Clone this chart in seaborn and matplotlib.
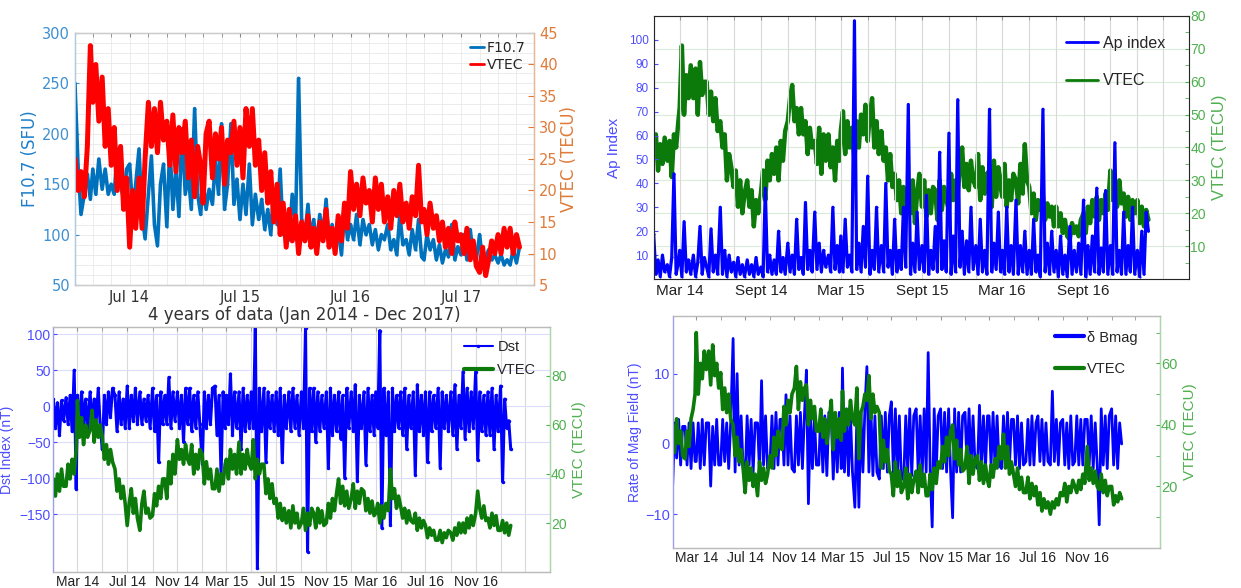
import numpy as np
import pandas as pd
import matplotlib
matplotlib.use("Agg")
import matplotlib.pyplot as plt
import matplotlib.dates as mdates
from matplotlib.ticker import MultipleLocator, FixedLocator, FuncFormatter
import seaborn as sns

sns.set_style("white")
plt.rcParams['font.family'] = ['Liberation Sans', 'DejaVu Sans']

# ---------------- data ----------------
# Panel 1 (3 readings per month: day 1, 11, 21), Jan 2014 - Jan 2018
f107 = [250,170,120, 140,160,135, 165,140,175, 145,165,140, 150,140,185, 150,135,165,
        170,125,150, 185,120,96, 140,178,110, 89,150,170, 108,190,125, 165,118,205,
        140,160,125, 225,140,120, 155,125,145, 130,175,140, 210,125,150, 210,130,155,
        115,150,120, 170,110,140, 115,135,105, 125,100,145, 110,165,100, 120,95,140,
        110,255,115, 100,130,95, 115,90,120, 100,135,90, 110,85,105, 80,125,95,
        110,95,120, 90,115,100, 110,90,105, 85,100,95, 110,85,95, 80,120,90,
        95,80,105, 85,115,78, 75,100,85, 95,75,90, 72,85,78, 110,75,88,
        80,100,75, 105,80,75, 100,72,78, 85,75,80, 72,80,70, 75,70,85,
        72,88]
vtec1 = [25,20,23, 19,27,43, 34,40,31, 38,27,33, 24,30,20, 27,17,22,
         11,20,14, 22,14,25, 34,27,33, 26,34,28, 31,24,32, 23,30,26,
         31,22,28, 19,27,24, 18,29,31, 22,29,25, 30,21,28, 26,31,24,
         30,22,33, 27,33,24, 28,20,26, 18,23,15, 21,13,18, 11,17,12,
         16,10,15, 12,16,11, 14,10,15, 12,17,11, 14,10,16, 12,18,14,
         23,17,21, 16,22,18, 20,15,22, 17,21,15, 19,14,20, 16,21,15,
         18,14,19, 16,24,15, 17,13,18, 14,16,12, 15,11,14, 10,15,12,
         13,10,14, 9,12,8, 7,11,6.5, 9,12,10, 13,10,14, 11,14,10,
         13,11]

# Panels 2-4 (6 readings per month: day 1, 6, 11, 16, 21, 26), Jan 2014 - Jan 2017
ap = [19,2,8,1,10,3, 6,1,9,44,2,7, 12,1,24,3,8,2, 10,1,7,22,2,9, 5,1,21,3,10,2, 30,2,12,1,10,3,
      7,1,9,2,6,1, 8,2,6,1,9,2, 5,1,38,3,10,2, 8,2,20,3,9,2, 15,3,10,2,25,4, 9,2,32,4,12,3,
      28,4,15,3,12,5, 10,3,30,4,14,3, 18,3,25,5,10,3, 108,4,15,3,22,5, 43,2,12,4,30,3, 14,3,40,5,12,2,
      25,3,12,4,30,5, 73,2,15,3,28,4, 14,3,35,2,12,4, 22,3,53,4,16,3, 61,2,18,3,75,5, 20,2,16,3,30,4,
      14,2,25,3,12,2, 71,3,15,4,28,3, 12,2,30,3,14,2, 33,2,14,3,20,2, 12,2,25,3,10,1, 71,3,15,2,20,3,
      12,1,18,2,10,1, 22,2,12,3,15,2, 33,1,14,2,18,3, 38,2,13,3,37,2, 14,2,57,3,12,2, 28,2,14,3,30,2,
      12,1,20,2,28,20]
vtec2 = [38,44,33,41,35,43, 36,42,31,44,40,48, 52,71,50,62,55,65, 55,64,50,66,56,60, 60,50,57,48,55,45, 48,40,44,30,38,34,
         28,33,22,30,20,26, 30,22,27,16,24,20, 26,33,24,36,30,38, 32,40,30,42,36,45, 48,55,59,48,52,44, 52,44,48,38,46,40,
         42,35,46,32,44,36, 44,34,40,30,42,36, 45,51,38,48,40,46, 36,48,40,50,44,53, 42,50,55,40,48,38, 45,36,40,30,38,28,
         32,24,30,20,28,18, 27,20,30,17,26,32, 22,30,19,27,20,28, 27,18,30,21,28,24, 21,32,24,30,26,34, 40,28,35,27,36,30,
         28,38,24,34,26,32, 33,22,36,25,34,28, 25,35,22,30,24,32, 30,23,35,26,41,30, 28,20,26,18,24,21, 25,18,23,19,22,16,
         22,16,20,14,18,13, 12,17,14,16,13,18, 20,14,22,17,24,19, 25,18,24,20,26,21, 33,24,28,22,30,23, 26,19,25,18,24,20,
         24,17,22,16,21,18]
dst = [10,-30,5,-40,8,-20, 12,-25,15,-35,50,-115, 15,-30,20,-25,10,-35, 20,-30,10,-20,25,-30, -60,15,-25,20,-15,25, 15,-35,20,-25,10,-30,
       28,-30,15,-20,25,-25, 20,-25,10,-20,15,-30, 25,-35,15,-78,20,-25, 15,-25,40,-30,20,-20, 20,-30,15,-50,25,-25, 25,-35,15,-30,20,-25,
       -80,20,-30,15,-25,25, 28,-40,15,-95,20,-30, 15,-25,45,-40,20,-30, 20,-60,25,-35,15,-30, 20,-30,110,-225,25,-35, 25,-78,20,-30,15,-35,
       20,-40,25,-78,15,-30, 20,-35,25,-30,15,-40, 20,-30,108,-202,25,-35, 25,-50,20,-35,15,-30, 20,-86,25,-40,15,-35, 20,-45,15,-100,25,-30,
       20,-35,30,-104,15,-30, 20,-81,25,-35,15,-40, 20,-30,105,-169,25,-40, 20,-165,25,-35,15,-30, 20,-40,25,-60,15,-30, 20,-95,30,-35,15,-40,
       20,-78,20,-35,15,-30, 25,-85,20,-30,15,-35, 20,-40,30,-60,15,-30, 48,-45,25,-35,20,-30, 48,-75,20,-35,15,-40, 20,-40,25,-60,15,-35,
       28,-105,10,-30,-20,-60]
vtec3 = [38,31,40,33,42,35, 35,44,38,46,40,50, 70,55,63,52,60,55, 58,66,53,62,55,60, 55,46,52,44,50,45, 42,33,38,30,35,28,
         19,28,34,24,30,22, 17,28,33,24,26,22, 23,32,27,35,30,38, 38,30,45,36,48,40, 54,46,50,44,52,46, 44,52,40,48,42,50,
         48,36,45,38,42,34, 34,42,33,40,36,44, 46,38,50,42,48,40, 53,40,48,42,50,44, 42,54,38,46,40,44, 44,32,38,30,36,28,
         30,22,28,21,26,20, 25,18,27,20,24,18, 20,26,17,24,19,26, 24,18,26,20,25,19, 20,28,22,30,25,32, 38,28,35,27,33,26,
         30,36,26,33,28,34, 33,25,30,24,29,23, 24,28,20,27,22,28, 25,42,30,34,26,31, 27,22,26,20,25,21, 20,24,17,22,18,21,
         19,14,18,15,17,13, 13,17,12,16,14,17, 16,13,18,15,20,16, 20,16,22,18,23,19, 24,33,26,22,27,21, 22,18,24,19,23,17,
         17,21,16,20,15,19]
bmag = [-6,3,-2,3.5,-3,2.5, 2.5,-3,3,-3.5,3,-2.5, -2.5,3,-3.5,3.5,-3,3, 3,-6,2.5,-3,3.5,-3, -3,3.5,-2.5,3,-3.5,3, 15,-4,10,-3,4,-3.5,
        -5,4,-3,3.5,-4,3, 3,-4,9,-3,4,-3.5, -3,4,-3.5,4.5,-3,3.5, 3.5,-3,7,-3,4,-3.5, -4,4,-3,4.5,-3.5,4, 10.5,-8.5,4,-3.5,4,-3,
        -3,5,-4,4,-4.5,4.5, 4,-5,3.5,-4,4.5,-3.5, 10.8,-4,5,-4.5,4,-4, -9,4,-9,4.5,-4,5, 11,-4,5,-4.5,4,-4, -5,4,-3.5,4.5,-4,4,
        6,-4,5,-4.5,4,-5, -5,4,-4,5,-4.5,4, 5,-4,4,-4.5,5,-4, 13,-4,-11.8,5,-4,4, 5,-3.5,4.5,-4,5,-4, -10.5,5,-4,4.5,-4,4,
        4.5,-3,5,-3.5,4,-3, -3.5,5.5,-3,4,-3.5,4, 4,-3,4.5,-3.5,4,-3, -3.5,4,-3,4.5,-3,3.5, 3.5,-3,4,-3.5,3,-3, -2.5,3.5,-3,4,-3,3,
        4,-2.5,3.5,-3,3,-2.5, -3,7.5,-2.5,3.5,-3,3, 3.5,-3,3,-3.5,4,-3, -2.5,4,-3,3.5,-3,3.5, 3.5,-3,4,-3.5,3,-3, -11.5,5,-3,4,-3.5,4,
        5,-3,4,-3.5,3,0]
vtec4 = [40,31,42,34,38,30, 29,38,33,42,45,50, 70,50,60,55,64,58, 64,53,66,56,60,52, 57,45,52,44,50,42, 40,30,36,28,32,26,
         18,28,22,26,20,24, 17,28,22,26,21,24, 30,26,36,30,38,33, 32,46,40,48,44,50, 52,59,45,54,48,52, 53,40,48,42,46,38,
         38,45,36,42,34,40, 48,32,44,36,42,35, 51,38,45,40,48,42, 40,52,29,44,46,50, 48,56,42,50,44,46, 44,26,35,28,32,25,
         24,17,28,20,25,18, 20,26,16,24,18,22, 25,18,27,20,24,17, 17,24,19,26,21,28, 26,33,28,36,30,38, 40,29,35,27,32,25,
         26,33,21,30,24,29, 30,22,28,21,27,22, 20,27,23,29,26,33, 29,37,26,33,24,28, 24,20,26,19,23,18, 18,23,16,21,17,20,
         14,18,12,16,13,15, 11,15,13,16,14,18, 17,21,15,20,18,22, 20,18,22,19,24,21, 33,22,26,21,25,20, 19,24,18,22,17,20,
         20,14,17,15,18,16]


def make_dates(n, per):
    offs = (0, 10, 20) if per == 3 else (0, 5, 10, 15, 20, 25)
    months = pd.date_range('2014-01-01', periods=(n + per - 1) // per, freq='MS')
    d = [m + pd.Timedelta(days=k) for m in months for k in offs]
    return pd.to_datetime(d[:n])


def fmt_date(x, pos=None):
    d = mdates.num2date(x)
    mon = 'Sept' if d.month == 9 else d.strftime('%b')
    return f"{mon} {d:%y}"


def date_ticks(start, end, freq):
    return FixedLocator(mdates.date2num(pd.date_range(start, end, freq=freq).to_pydatetime()))


BLUE = '#0000FF'
GREEN = '#0B7A0B'
BLUE_TXT = '#4d4dff'
GREEN_TXT = '#4fb04f'

fig = plt.figure(figsize=(12.41, 5.88), dpi=100)

# ======================= Panel 1 =======================
ax1 = fig.add_axes([0.0604, 0.5153, 0.3699, 0.4286])
ax1b = ax1.twinx()
sns.lineplot(x=make_dates(len(f107), 3), y=f107, ax=ax1, color='#0072BD', lw=2.6,
             marker='.', markersize=3, markeredgewidth=0, legend=False)
sns.lineplot(x=make_dates(len(vtec1), 3), y=vtec1, ax=ax1b, color='#FF0000', lw=3.6,
             marker='.', markersize=3, markeredgewidth=0, legend=False)
ax1.set_xlim(pd.Timestamp('2014-01-01'), pd.Timestamp('2018-02-28'))
ax1.set_ylim(50, 300)
ax1b.set_ylim(5, 45)
ax1.yaxis.set_major_locator(MultipleLocator(50))
ax1.yaxis.set_minor_locator(MultipleLocator(10))
ax1b.yaxis.set_major_locator(MultipleLocator(5))
ax1.xaxis.set_major_locator(mdates.MonthLocator(bymonth=[7]))
ax1.xaxis.set_minor_locator(mdates.MonthLocator(bymonth=[1, 3, 5, 7, 9, 11]))
ax1.xaxis.set_major_formatter(FuncFormatter(fmt_date))
ax1.grid(True, which='both', color='#e9e9e9', lw=0.6)
ax1.set_axisbelow(True)
ax1.tick_params(axis='y', which='both', color='#3d8fd1', labelcolor='#3d8fd1',
                direction='in', labelsize=10.5, length=3)
ax1.tick_params(axis='y', which='minor', length=0)
ax1.tick_params(axis='x', which='both', direction='in', labelcolor='#333333',
                labelsize=10.5, top=True, length=3, color='#888888')
ax1b.tick_params(axis='y', color='#e07b39', labelcolor='#e07b39', direction='in',
                 labelsize=10.5, length=4)
ax1.set_ylabel('F10.7 (SFU)', color='#1f7fc8', fontsize=12, family='DejaVu Sans', labelpad=2)
ax1b.set_ylabel('VTEC (TECU)', color='#e07b39', fontsize=12, family='DejaVu Sans', labelpad=2)
ax1.set_xlabel('4 years of data (Jan 2014 - Dec 2017)', color='#333333', fontsize=12,
               family='DejaVu Sans', labelpad=1)
for lab in ax1.get_xticklabels() + ax1.get_yticklabels() + ax1b.get_yticklabels():
    lab.set_family('DejaVu Sans')
for s in ['top', 'bottom']:
    ax1b.spines[s].set_color('#cccccc')
ax1b.spines['left'].set_color('#a8cbea')
ax1b.spines['right'].set_color('#f0b48a')
h = [ax1.get_lines()[0], ax1b.get_lines()[0]]
ax1b.legend(h, ['F10.7', 'VTEC'], loc='upper right', frameon=False,
            handlelength=1.0, handletextpad=0.2, borderaxespad=0.2, labelspacing=0.2,
            prop={'family': 'DejaVu Sans', 'size': 10})
for lh in ax1b.get_legend().get_lines():
    lh.set_linewidth(2.0)

# ======================= Panel 2 =======================
ax2 = fig.add_axes([0.5267, 0.5255, 0.4314, 0.4473])
ax2b = ax2.twinx()
sns.lineplot(x=make_dates(len(vtec2), 6), y=vtec2, ax=ax2b, color=GREEN, lw=3.2,
             marker='.', markersize=3, markeredgewidth=0, legend=False)
sns.lineplot(x=make_dates(len(ap), 6), y=ap, ax=ax2, color=BLUE, lw=2.3,
             marker='.', markersize=3, markeredgewidth=0, legend=False)
ax2.set_zorder(ax2b.get_zorder() + 1)
ax2.patch.set_visible(False)
ax2.set_xlim(pd.Timestamp('2014-01-01'), pd.Timestamp('2017-04-28'))
ax2.set_ylim(0, 110)
ax2b.set_ylim(0, 80)
ax2.yaxis.set_major_locator(FixedLocator(np.arange(10, 101, 10)))
ax2b.yaxis.set_major_locator(FixedLocator(np.arange(10, 81, 10)))
ax2b.yaxis.set_minor_locator(FixedLocator(np.arange(5, 80, 10)))
ax2.xaxis.set_major_locator(date_ticks('2014-03-01', '2016-09-01', '6MS'))
ax2.xaxis.set_minor_locator(date_ticks('2014-01-01', '2017-03-01', '2MS'))
ax2.xaxis.set_major_formatter(FuncFormatter(fmt_date))
ax2.grid(True, axis='x', which='both', color='#d9d9d9', lw=0.8)
ax2b.grid(True, axis='y', which='major', color='#d8ecd8', lw=0.8)
ax2.tick_params(axis='y', color=BLUE_TXT, labelcolor=BLUE_TXT, direction='in',
                labelsize=8.5, length=3)
ax2.tick_params(axis='x', which='both', direction='in', labelsize=11, length=3,
                color='#999999', top=True, labelcolor='#222222')
ax2b.tick_params(axis='y', which='both', color=GREEN_TXT, labelcolor=GREEN_TXT,
                 direction='in', labelsize=10, length=3, pad=1)
ax2.set_xlabel('')
ax2.set_ylabel('Ap Index', color=BLUE_TXT, fontsize=11, labelpad=6)
ax2b.set_ylabel('VTEC (TECU)', color=GREEN_TXT, fontsize=12, labelpad=4)
for s in ['top', 'bottom']:
    ax2b.spines[s].set_color('#bbbbbb')
ax2b.spines['left'].set_color('#9a9aff')
ax2b.spines['right'].set_color('#a6dba6')
h = [ax2.get_lines()[0], ax2b.get_lines()[0]]
ax2.legend(h, ['Ap index', 'VTEC'], loc='upper right', frameon=False, fontsize=11.5,
           handlelength=2.0, handletextpad=0.3, borderaxespad=0.6, labelspacing=1.4,
           bbox_to_anchor=(0.985, 0.985))
for lh in ax2.get_legend().get_lines():
    lh.set_linewidth(2.0)

# ======================= Panel 3 =======================
ax3 = fig.add_axes([0.0430, 0.0272, 0.3998, 0.4167])
ax3b = ax3.twinx()
sns.lineplot(x=make_dates(len(dst), 6), y=dst, ax=ax3, color=BLUE, lw=2.2,
             marker='.', markersize=5, markeredgewidth=0, legend=False)
sns.lineplot(x=make_dates(len(vtec3), 6), y=vtec3, ax=ax3b, color=GREEN, lw=2.6,
             legend=False)
ax3.set_xlim(pd.Timestamp('2014-01-01'), pd.Timestamp('2017-05-01'))
ax3.set_ylim(-230, 110)
ax3b.set_ylim(0, 100)
ax3.yaxis.set_major_locator(FixedLocator([-150, -100, -50, 0, 50, 100]))
ax3b.yaxis.set_major_locator(FixedLocator([20, 40, 60, 80]))
ax3.xaxis.set_major_locator(date_ticks('2014-03-01', '2016-11-01', '4MS'))
ax3.xaxis.set_minor_locator(date_ticks('2014-01-01', '2017-03-01', '2MS'))
ax3.xaxis.set_major_formatter(FuncFormatter(fmt_date))
ax3.grid(True, axis='x', which='both', color='#d9d9d9', lw=0.8)
ax3.grid(True, axis='y', which='major', color='#dcdcff', lw=0.8)
ax3.set_axisbelow(True)
ax3.tick_params(axis='y', color=BLUE_TXT, labelcolor=BLUE_TXT, direction='in',
                labelsize=10, length=3, pad=2)
ax3.tick_params(axis='x', which='both', direction='in', labelsize=10, length=3,
                color='#999999', top=True, labelcolor='#222222', pad=2)
ax3b.tick_params(axis='y', color=GREEN_TXT, labelcolor=GREEN_TXT, direction='in',
                 labelsize=10, length=3, pad=1)
ax3.set_xlabel('')
ax3.set_ylabel('Dst Index (nT)', color=BLUE_TXT, fontsize=10, labelpad=4)
ax3b.set_ylabel('VTEC (TECU)', color=GREEN_TXT, fontsize=11, labelpad=4)
for s in ['top', 'bottom']:
    ax3b.spines[s].set_color('#bbbbbb')
ax3b.spines['left'].set_color('#9a9aff')
ax3b.spines['right'].set_color('#a6dba6')
h = [ax3.get_lines()[0], ax3b.get_lines()[0]]
ax3b.legend(h, ['Dst', 'VTEC'], loc='upper right', frameon=False, fontsize=10.5,
            handlelength=2.0, handletextpad=0.3, borderaxespad=0.5, labelspacing=0.6)
for lh, lw in zip(ax3b.get_legend().get_lines(), [1.5, 3.0]):
    lh.set_linewidth(lw)

# ======================= Panel 4 =======================
ax4 = fig.add_axes([0.5420, 0.0680, 0.3925, 0.3946])
ax4b = ax4.twinx()
sns.lineplot(x=make_dates(len(bmag), 6), y=bmag, ax=ax4, color=BLUE, lw=2.0,
             legend=False)
sns.lineplot(x=make_dates(len(vtec4), 6), y=vtec4, ax=ax4b, color=GREEN, lw=2.6,
             legend=False)
ax4.set_xlim(pd.Timestamp('2014-01-01'), pd.Timestamp('2017-05-01'))
ax4.set_ylim(-14.8, 18.2)
ax4b.set_ylim(0, 75.4)
ax4.yaxis.set_major_locator(FixedLocator([-10, 0, 10]))
ax4b.yaxis.set_major_locator(FixedLocator([20, 40, 60]))
ax4b.yaxis.set_minor_locator(FixedLocator([10, 30, 50, 70]))
ax4.xaxis.set_major_locator(date_ticks('2014-03-01', '2016-11-01', '4MS'))
ax4.xaxis.set_minor_locator(date_ticks('2014-01-01', '2017-03-01', '2MS'))
ax4.xaxis.set_major_formatter(FuncFormatter(fmt_date))
ax4.tick_params(axis='y', color=BLUE_TXT, labelcolor=BLUE_TXT, direction='in',
                labelsize=10.5, length=3, pad=2)
ax4.tick_params(axis='x', which='both', direction='in', labelsize=10, length=3,
                color='#999999', top=True, labelcolor='#222222', pad=2)
ax4b.tick_params(axis='y', which='both', color=GREEN_TXT, labelcolor=GREEN_TXT,
                 direction='in', labelsize=10.5, length=3, pad=1)
ax4.set_xlabel('')
ax4.set_ylabel('Rate of Mag Field (nT)', color=BLUE_TXT, fontsize=10, labelpad=2)
ax4b.set_ylabel('VTEC (TECU)', color=GREEN_TXT, fontsize=11, labelpad=4)
for s in ['top', 'bottom']:
    ax4b.spines[s].set_color('#bbbbbb')
ax4b.spines['left'].set_color('#9a9aff')
ax4b.spines['right'].set_color('#a6dba6')
h = [ax4.get_lines()[0], ax4b.get_lines()[0]]
ax4b.legend(h, ['δ Bmag', 'VTEC'], loc='upper right', frameon=False, fontsize=10.5,
            handlelength=2.0, handletextpad=0.2, borderaxespad=0.6, labelspacing=1.2,
            bbox_to_anchor=(0.985, 1.0))
for lh in ax4b.get_legend().get_lines():
    lh.set_linewidth(3.0)

fig.savefig('out.png', dpi=100)
